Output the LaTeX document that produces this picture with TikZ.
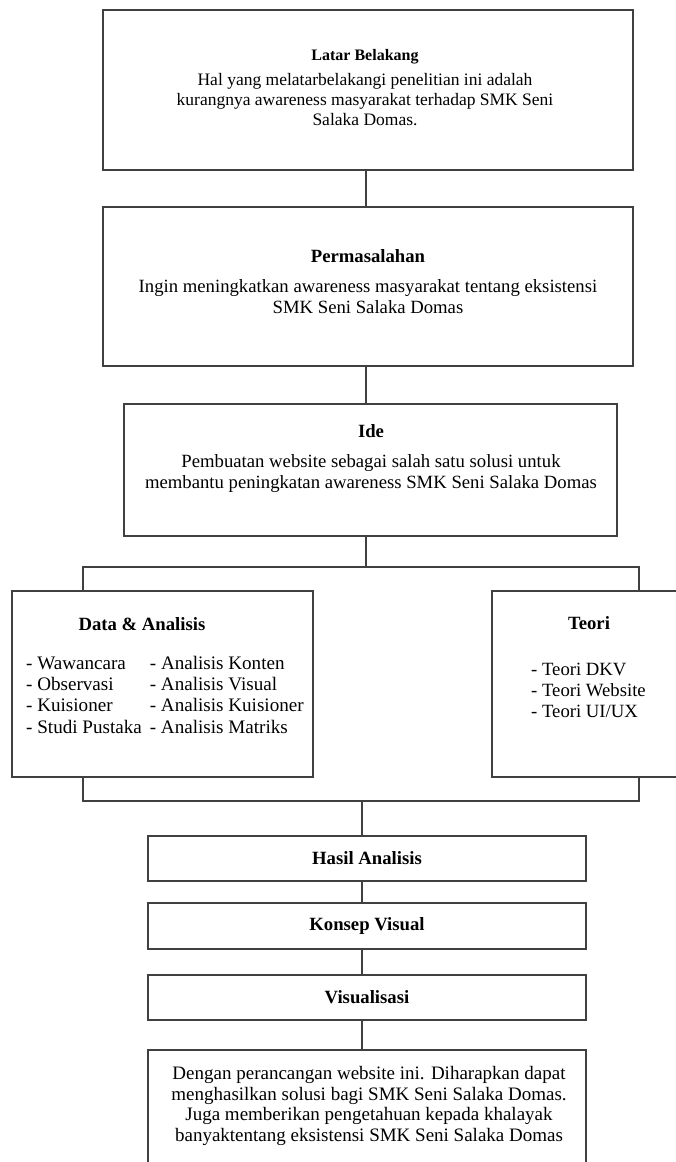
\documentclass[tikz,border=0pt]{standalone}
\usepackage{fontspec}
\setmainfont{Liberation Serif}

\tikzset{
  box/.style={draw=black!75, line width=1.3pt, inner sep=0pt},
  txt/.style={inner sep=0pt, align=center, font=\fontsize{18.7}{21}\selectfont},
  link/.style={draw=black!75, line width=1.3pt},
}

\begin{document}
\begin{tikzpicture}[x=1pt,y=-1pt]
  \useasboundingbox (0,0) rectangle (675,1162);
  % boxes
  \node[box, minimum width=530, minimum height=160] (latar) at (368,90) {};
  \node[box, minimum width=530, minimum height=159] (masalah) at (368,286.5) {};
  \node[box, minimum width=493, minimum height=132] (ide) at (370.5,470) {};
  \node[box, minimum width=301, minimum height=186] (data) at (162.5,684) {};
  \node[box, minimum width=194, minimum height=186] (teori) at (589,684) {};
  \node[box, minimum width=438, minimum height=45] (hasil) at (367,858.5) {};
  \node[box, minimum width=438, minimum height=46] (konsep) at (367,926) {};
  \node[box, minimum width=438, minimum height=45] (visual) at (367,997.5) {};
  \node[box, minimum width=438, minimum height=118] (hasilakhir) at (367,1109) {};

  % texts
  \node[txt, font=\fontsize{17.5}{20}\selectfont] (latart) at (365,87.5)
    {{\fontsize{16}{20}\selectfont\bfseries Latar Belakang}\\[5pt]
     Hal yang melatarbelakangi penelitian ini adalah\\
     kurangnya awareness masyarakat terhadap SMK Seni\\
     Salaka Domas.};
  \node[txt] (masalaht) at (368,282)
    {\textbf{Permasalahan}\\[9pt]
     Ingin meningkatkan awareness masyarakat tentang eksistensi\\
     SMK Seni Salaka Domas};
  \node[txt] (idet) at (371,459)
    {\textbf{Ide}\\[9pt]
     Pembuatan website sebagai salah satu solusi untuk\\
     membantu peningkatan awareness SMK Seni Salaka Domas};
  \node[txt] (datat) at (142,624) {\textbf{Data \& Analisis}};
  \node[txt, anchor=west, font=\fontsize{19.1}{21.3}\selectfont] (datal) at (26,697)
    {\begin{tabular}{@{}l@{\hspace{8pt}}l@{}}
     - Wawancara & - Analisis Konten\\
     - Observasi & - Analisis Visual\\
     - Kuisioner & - Analisis Kuisioner\\
     - Studi Pustaka & - Analisis Matriks
     \end{tabular}};
  \node[txt] (teorit) at (589,623) {\textbf{Teori}};
  \node[txt, align=left, anchor=west] (teoril) at (531,690)
    {- Teori DKV\\ - Teori Website\\ - Teori UI/UX};
  \node[txt] at (hasil) {\textbf{Hasil Analisis}};
  \node[txt] at (konsep) {\textbf{Konsep Visual}};
  \node[txt] at (visual) {\textbf{Visualisasi}};
  \node[txt, font=\fontsize{19}{20.5}\selectfont] (hasilakhirt) at (369,1106)
    {Dengan perancangan website ini. Diharapkan dapat\\
     menghasilkan solusi bagi SMK Seni Salaka Domas.\\
     Juga memberikan pengetahuan kepada khalayak\\
     banyaktentang eksistensi SMK Seni Salaka Domas};

  % connectors
  \coordinate (bl) at (83,567);
  \coordinate (br) at (639,567);
  \coordinate (jl) at (83,801);
  \coordinate (jr) at (639,801);
  \draw[link] (latar.south -| 366,0) -- (masalah.north -| 366,0);
  \draw[link] (masalah.south -| 366,0) -- (ide.north -| 366,0);
  \draw[link] (ide.south -| 366,0) -- (bl -| 366,0);
  \draw[link] (data.north -| bl) -- (bl) -- (br) -- (teori.north -| br);
  \draw[link] (data.south -| jl) -- (jl) -- (jr) -- (teori.south -| jr);
  \draw[link] (jl -| 362,0) -- (hasil.north -| 362,0);
  \draw[link] (hasil.south -| 362,0) -- (konsep.north -| 362,0);
  \draw[link] (konsep.south -| 362,0) -- (visual.north -| 362,0);
  \draw[link] (visual.south -| 362,0) -- (hasilakhir.north -| 362,0);
\end{tikzpicture}
\end{document}
